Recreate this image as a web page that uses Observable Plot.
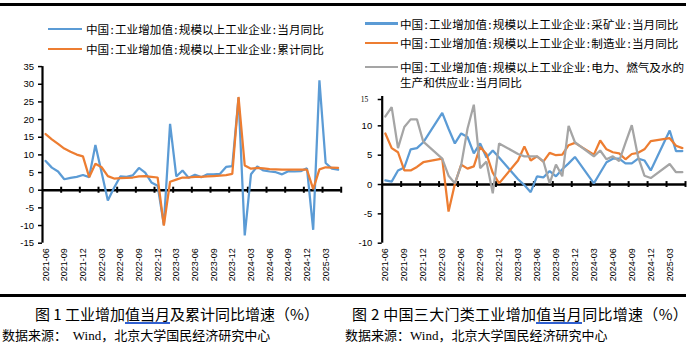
<!DOCTYPE html>
<html><head><meta charset="utf-8">
<script src="https://cdn.jsdelivr.net/npm/d3@7"></script>
<script src="https://cdn.jsdelivr.net/npm/@observablehq/plot@0.6"></script>
<style>
body{margin:0;background:#fff;}
#page{position:relative;width:690px;height:343px;overflow:hidden;font-family:"Noto Sans CJK SC",sans-serif;color:#000;}
.hr{position:absolute;left:0;width:686px;height:3px;background:#000;}
.panel{position:absolute;top:0;width:345px;height:295px;}
.legend{position:relative;width:345px;}
.item{position:absolute;font-size:11.6px;line-height:14px;white-space:nowrap;}
.colon{display:inline-block;width:0.5em;text-align:center;}
.sw{position:absolute;height:2.5px;}
.cap{position:absolute;font-size:15px;line-height:18px;white-space:nowrap;}
.src{position:absolute;font-size:13px;line-height:16px;white-space:nowrap;}
.wind{font-family:"Liberation Serif",serif;}
.ul{position:relative;}
.ulbar{position:absolute;left:0;right:0;top:19.4px;height:1.5px;background:#2f5fd0;}
</style>
</head><body>
<div id="page">
  <div class="hr" style="top:3px"></div>
  <div class="panel" id="left" style="left:0">
    <div class="legend" id="legL" style="height:58px"></div>
  </div>
  <div class="panel" id="right" style="left:345px">
    <div class="legend" id="legR" style="height:88px"></div>
  </div>
  <div class="hr" style="top:294px"></div>
  <div class="cap" style="left:35px;top:305px">图 1 工业增加<span class="ul">值当月<span class="ulbar"></span></span>及累计同比增速（%）</div>
  <div class="cap" style="left:352px;top:305px;letter-spacing:0.3px">图 2 中国三大门类工业增加<span class="ul">值当月<span class="ulbar"></span></span>同比增速（%）</div>
  <div class="src" style="left:2px;top:327px">数据来源：&nbsp;&nbsp;<span class="wind">Wind</span>，北京大学国民经济研究中心</div>
  <div class="src" style="left:345px;top:327px">数据来源：<span class="wind">Wind</span>，北京大学国民经济研究中心</div>
</div>
<script>
// ---- categories ----
const months = [
  "2021-06","2021-07","2021-08","2021-09","2021-10","2021-11","2021-12",
  "2022-01","2022-02","2022-03","2022-04","2022-05","2022-06","2022-07","2022-08","2022-09","2022-10","2022-11","2022-12",
  "2023-01","2023-02","2023-03","2023-04","2023-05","2023-06","2023-07","2023-08","2023-09","2023-10","2023-11","2023-12",
  "2024-01","2024-02","2024-03","2024-04","2024-05","2024-06","2024-07","2024-08","2024-09","2024-10","2024-11","2024-12",
  "2025-01","2025-02","2025-03","2025-04","2025-05"
];
// ---- figure 1 series ----
const ivaMonthly = [
  8.3, 6.4, 5.3, 3.1, 3.5, 3.8, 4.3,
  3.7, 12.8, 5.0, -2.9, 0.7, 3.9, 3.8, 4.2, 6.3, 5.0, 2.2, 1.3,
  -9.8, 18.8, 3.9, 5.6, 3.5, 4.4, 3.7, 4.5, 4.5, 4.6, 6.6, 6.8,
  26.2, -12.8, 4.5, 6.7, 5.6, 5.3, 5.1, 4.5, 5.4, 5.3, 5.4, 6.2,
  -11.2, 31.1, 7.7, 6.1, 5.8
];
const ivaCumulative = [
  15.9, 14.4, 13.1, 11.8, 10.9, 10.1, 9.6,
  3.7, 7.5, 6.5, 4.0, 3.3, 3.4, 3.5, 3.6, 3.9, 4.0, 3.8, 3.6,
  -10.0, 2.4, 3.0, 3.6, 3.6, 3.8, 3.8, 3.9, 4.0, 4.1, 4.3, 4.6,
  26.4, 7.0, 6.1, 6.3, 6.2, 6.0, 5.9, 5.8, 5.8, 5.8, 5.8, 5.8,
  0.3, 5.9, 6.5, 6.4, 6.3
];
// ---- figure 2 series (Jan/Feb not reported) ----
const mining = [
  0.7, 0.5, 2.4, 2.9, 6.0, 6.2, 7.2,
  null, null, 12.2, 9.5, 7.0, 8.7, 8.1, 5.3, 7.0, 4.6, 5.8, 4.6,
  null, null, 0.9, -0.1, -1.3, 1.4, 1.2, 2.3, 1.4, 2.6, 3.6, 4.7,
  null, null, 0.2, 2.0, 3.8, 4.4, 4.4, 3.6, 3.6, 4.4, 4.1, 2.4,
  null, null, 9.2, 5.7, 5.7
];
const manufacturing = [
  8.7, 6.2, 5.5, 2.4, 2.4, 3.0, 3.8,
  null, null, 4.4, -4.6, 0.1, 3.4, 2.7, 3.1, 6.4, 5.2, 2.0, 0.2,
  null, null, 4.1, 6.5, 4.1, 4.8, 3.9, 5.4, 5.0, 5.1, 6.7, 7.1,
  null, null, 5.1, 7.5, 6.0, 5.5, 5.3, 4.3, 5.2, 5.4, 6.0, 7.4,
  null, null, 7.9, 6.6, 6.2
];
const utilities = [
  11.6, 13.2, 6.2, 9.8, 11.1, 11.1, 7.3,
  null, null, 4.4, 1.5, 0.2, 3.3, 9.5, 13.6, 2.8, 3.9, -1.5, 7.0,
  null, null, 5.2, 4.8, 4.8, 4.8, 4.0, 0.2, 3.4, 1.4, 10.0, 7.2,
  null, null, 4.8, 5.8, 4.3, 4.8, 4.0, 7.1, 10.1, 4.7, 1.5, 1.1,
  null, null, 3.5, 2.1, 2.1
];
// ---- legend labels ----
const legendLeft = ["中国:工业增加值:规模以上工业企业:当月同比", "中国:工业增加值:规模以上工业企业:累计同比"];
const legendRight = [
  "中国:工业增加值:规模以上工业企业:采矿业:当月同比",
  "中国:工业增加值:规模以上工业企业:制造业:当月同比",
  "中国:工业增加值:规模以上工业企业:电力、燃气及水的",
  "生产和供应业:当月同比"
];
// ---- ticks ----
const leftYTicks = [-15, -10, -5, 0, 5, 10, 15, 20, 25, 30, 35];
const rightYTicks = [-10, -5, 0, 5, 10];
const rightTopTick = [15];
const labelIdx = months.map((m, i) => i).filter(i => i % 3 === 0);
const boundaries = months.map((m, i) => i - 0.5).filter((b, k) => k % 3 === 0 && k > 0).concat([months.length - 0.5]);

const BLUE = "#5B9BD5", ORANGE = "#ED7D31", GRAY = "#A5A5A5";
const toRows = vals => vals.map((v, i) => ({i, v}));

function panel({yDomain, yTicks, series, width, height, mL, mR, mT, mB, tickHalf, padY, extra = []}) {
  return Plot.plot({
    width, height, marginLeft: mL, marginRight: mR, marginTop: mT, marginBottom: mB,
    x: {type: "linear", domain: [-0.5, months.length - 0.5], label: null},
    y: {domain: yDomain, label: null},
    style: {fontFamily: "'Liberation Sans', Arial, sans-serif", color: "#000", background: "transparent", overflow: "visible"},
    marks: [
      Plot.axisY({ticks: yTicks, label: null, tickSize: 4, tickPadding: padY, fontSize: 9.5, strokeWidth: 1.5, tickFormat: d => String(d)}),
      ...extra,
      Plot.axisX({ticks: labelIdx, label: null, tickSize: 0, tickPadding: 5, tickRotate: -90, fontSize: 9, tickFormat: i => months[i]}),
      Plot.ruleX([-0.5], {stroke: "#000", strokeWidth: 2.2}),
      Plot.ruleX(boundaries, {y1: -tickHalf, y2: tickHalf, stroke: "#000", strokeWidth: 2}),
      Plot.ruleY([0], {stroke: "#000", strokeWidth: 2.5}),
      ...series.map(s => Plot.line(toRows(s.values), {x: "i", y: "v", filter: d => d.v != null, stroke: s.color, strokeWidth: 2.25, strokeLinejoin: "miter"}))
    ]
  });
}

const leftChart = panel({
  yDomain: [-15, 35], yTicks: leftYTicks, width: 345, height: 237,
  mL: 42, mR: 4.3, mT: 8.1, mB: 52.3, tickHalf: 0.85, padY: 4.5,
  series: [{values: ivaMonthly, color: BLUE}, {values: ivaCumulative, color: ORANGE}]
});
const rightChart = panel({
  yDomain: [-10, 15], yTicks: rightYTicks, width: 345, height: 207,
  mL: 36.7, mR: 5, mT: 8, mB: 52.3, tickHalf: 0.5, padY: 6,
  extra: [Plot.axisY(rightTopTick, {label: null, tickSize: 4, tickPadding: 10, fontSize: 7.5, fontFamily: "'Liberation Serif', serif", dy: 3, strokeWidth: 1.5})],
  series: [{values: mining, color: BLUE}, {values: manufacturing, color: ORANGE}, {values: utilities, color: GRAY}]
});
document.getElementById("left").appendChild(leftChart);
document.getElementById("right").appendChild(rightChart);

function addItem(host, {swX, swW, y, color, textX, text}) {
  if (color) {
    const sw = document.createElement("div");
    sw.className = "sw";
    sw.style.cssText = `left:${swX}px;top:${y - 1.25}px;width:${swW}px;background:${color}`;
    host.appendChild(sw);
  }
  const t = document.createElement("div");
  t.className = "item";
  t.style.cssText = `left:${textX}px;top:${y - 7}px;`;
  // half-width colons, as in the reference legend
  text.split(":").forEach((part, k) => {
    if (k > 0) {
      const c = document.createElement("span");
      c.className = "colon";
      c.textContent = ":";
      t.appendChild(c);
    }
    t.appendChild(document.createTextNode(part));
  });
  host.appendChild(t);
}
const legL = document.getElementById("legL");
addItem(legL, {swX: 48, swW: 34, y: 29, color: BLUE, textX: 86, text: legendLeft[0]});
addItem(legL, {swX: 48, swW: 34, y: 49, color: ORANGE, textX: 86, text: legendLeft[1]});
const legR = document.getElementById("legR");
addItem(legR, {swX: 20, swW: 33, y: 23.5, color: BLUE, textX: 55, text: legendRight[0]});
addItem(legR, {swX: 20, swW: 33, y: 43, color: ORANGE, textX: 55, text: legendRight[1]});
addItem(legR, {swX: 20, swW: 33, y: 67, color: GRAY, textX: 55, text: legendRight[2]});
addItem(legR, {y: 81.5, textX: 55, text: legendRight[3]});
</script>
</body></html>
